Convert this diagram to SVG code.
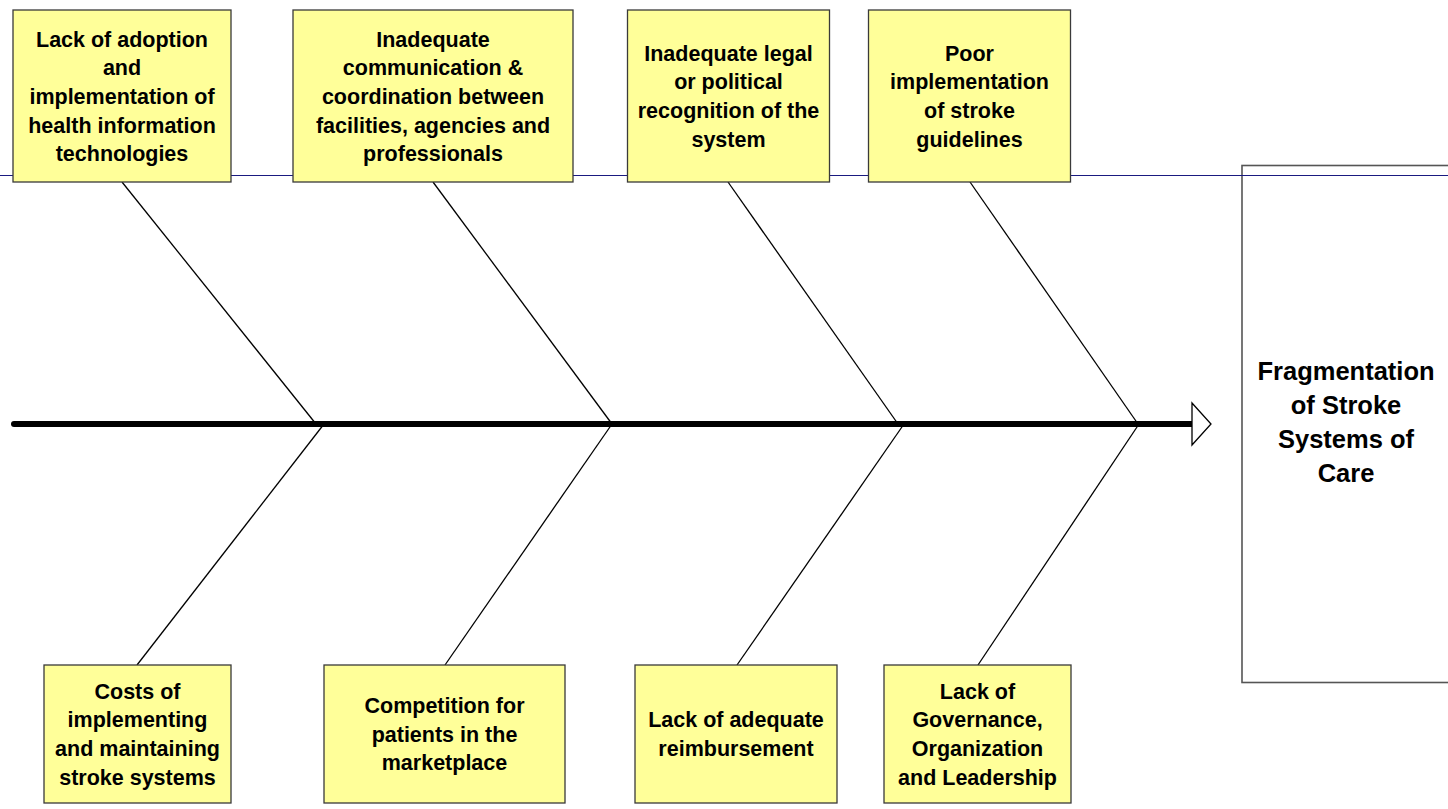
<svg xmlns="http://www.w3.org/2000/svg" width="1448" height="809" viewBox="0 0 1448 809">
<style>
.box{fill:#FFFF99;stroke:#3a3a3a;stroke-width:1.3}
.lbl{font-family:"Liberation Sans",Arial,sans-serif;font-weight:bold;font-size:21.5px;fill:#000;text-anchor:middle}
.big{font-family:"Liberation Sans",Arial,sans-serif;font-weight:bold;font-size:25.5px;fill:#000;text-anchor:middle}
.bone{stroke:#000;stroke-width:1.3;fill:none}
</style>
<rect width="1448" height="809" fill="#fff"/>
<g id="effect">
<rect x="1242" y="165.5" width="220" height="517" fill="#fff" stroke="#555" stroke-width="1.6"/>
<text class="big"><tspan x="1346" y="380">Fragmentation</tspan><tspan x="1346" y="414">of Stroke</tspan><tspan x="1346" y="448">Systems of</tspan><tspan x="1346" y="482">Care</tspan></text>
</g>
<line x1="0" y1="175.5" x2="1448" y2="175.5" stroke="#1a1a80" stroke-width="1"/>
<g id="connectors">
<line class="bone" x1="122" y1="182" x2="316" y2="424"/>
<line class="bone" x1="137" y1="665" x2="324" y2="424"/>
<line class="bone" x1="433" y1="182" x2="612" y2="424"/>
<line class="bone" x1="445" y1="665" x2="612" y2="424"/>
<line class="bone" x1="728" y1="182" x2="898" y2="424"/>
<line class="bone" x1="737" y1="665" x2="904" y2="424"/>
<line class="bone" x1="970" y1="182" x2="1138" y2="424"/>
<line class="bone" x1="978" y1="665" x2="1139" y2="424"/>
<line x1="14" y1="424" x2="1192" y2="424" stroke="#000" stroke-width="6" stroke-linecap="round"/>
<polygon points="1192,403 1211,424 1192,445" fill="#fff" stroke="#000" stroke-width="1.3"/>
</g>
<g id="cause1">
<rect class="box" x="13" y="10" width="218" height="172"/>
<text class="lbl"><tspan x="122" y="46.5">Lack of adoption</tspan><tspan x="122" y="75.2">and</tspan><tspan x="122" y="103.9">implementation of</tspan><tspan x="122" y="132.6">health information</tspan><tspan x="122" y="161.3">technologies</tspan></text>
</g>
<g id="cause2">
<rect class="box" x="293" y="10" width="280" height="172"/>
<text class="lbl"><tspan x="433" y="46.5">Inadequate</tspan><tspan x="433" y="75.2">communication &amp;</tspan><tspan x="433" y="103.9">coordination between</tspan><tspan x="433" y="132.6">facilities, agencies and</tspan><tspan x="433" y="161.3">professionals</tspan></text>
</g>
<g id="cause3">
<rect class="box" x="627.5" y="10" width="202" height="172"/>
<text class="lbl"><tspan x="728.5" y="60.5">Inadequate legal</tspan><tspan x="728.5" y="89.2">or political</tspan><tspan x="728.5" y="117.9">recognition of the</tspan><tspan x="728.5" y="146.6">system</tspan></text>
</g>
<g id="cause4">
<rect class="box" x="868.5" y="10" width="202" height="172"/>
<text class="lbl"><tspan x="969.5" y="60.5">Poor</tspan><tspan x="969.5" y="89.2">implementation</tspan><tspan x="969.5" y="117.9">of stroke</tspan><tspan x="969.5" y="146.6">guidelines</tspan></text>
</g>
<g id="cause5">
<rect class="box" x="44" y="665" width="187" height="138"/>
<text class="lbl"><tspan x="137.5" y="698.5">Costs of</tspan><tspan x="137.5" y="727.2">implementing</tspan><tspan x="137.5" y="755.9">and maintaining</tspan><tspan x="137.5" y="784.6">stroke systems</tspan></text>
</g>
<g id="cause6">
<rect class="box" x="324" y="665" width="241" height="138"/>
<text class="lbl"><tspan x="444.5" y="712.8">Competition for</tspan><tspan x="444.5" y="741.5">patients in the</tspan><tspan x="444.5" y="770.2">marketplace</tspan></text>
</g>
<g id="cause7">
<rect class="box" x="635" y="665" width="202" height="138"/>
<text class="lbl"><tspan x="736" y="727.2">Lack of adequate</tspan><tspan x="736" y="755.9">reimbursement</tspan></text>
</g>
<g id="cause8">
<rect class="box" x="884" y="665" width="187" height="138"/>
<text class="lbl"><tspan x="977.5" y="698.5">Lack of</tspan><tspan x="977.5" y="727.2">Governance,</tspan><tspan x="977.5" y="755.9">Organization</tspan><tspan x="977.5" y="784.6">and Leadership</tspan></text>
</g>
</svg>
